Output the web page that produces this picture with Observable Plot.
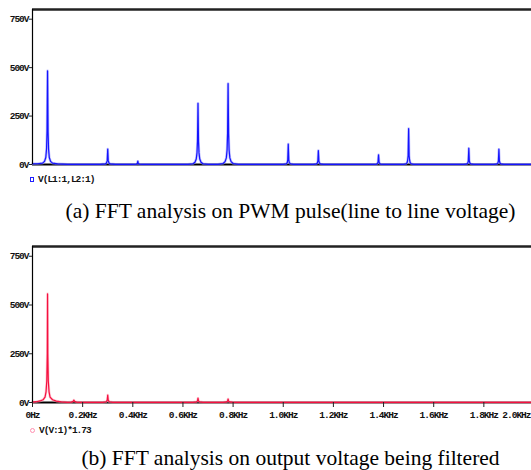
<!DOCTYPE html>
<html>
<head>
<meta charset="utf-8">
<script src="https://cdn.jsdelivr.net/npm/d3@7"></script>
<script src="https://cdn.jsdelivr.net/npm/@observablehq/plot@0.6"></script>
<style>
  html, body { margin: 0; padding: 0; background: #fff; }
  #wrap { position: relative; width: 531px; height: 470px; overflow: hidden; background: #fff; }
  .panel { position: absolute; left: 0; }
  .panel text { letter-spacing: -1px; }
  .legend { position: absolute; left: 30px; font-family: "Liberation Mono", monospace; font-weight: bold;
            font-size: 9.5px; letter-spacing: -1px; color: #111; white-space: nowrap; line-height: 10px; }
  .legend .mk { display: inline-block; vertical-align: middle; margin-right: 4px; box-sizing: border-box; }
  .caption { position: absolute; left: 50px; width: 481px; text-align: center; font-family: "Liberation Serif", "Times New Roman", serif;
             font-size: 21.5px; line-height: 22px; color: #000; white-space: nowrap; }
</style>
</head>
<body>
<div id="wrap"></div>
<script>
// ---- data (frequency in Hz, magnitude in V) ----
const spectrumA = [
  [0,4],[20,4],[40,7],[48,16],[53,36],[56,80],[58,170],[60,483],[62,170],[64,80],[67,36],[72,16],[80,7],[100,3],[140,1],
  [270,1],[290,3],[295,8],[298,20],[300,80],[302,20],[305,8],[310,3],[330,1],
  [400,1],[414,2],[418,5],[420,17],[422,5],[426,2],[440,1],
  [620,1],[640,4],[648,12],[653,28],[656,60],[658,120],[660,316],[662,120],[664,60],[667,28],[672,12],[680,4],[700,1],
  [740,1],[760,5],[768,15],[773,34],[776,75],[778,160],[780,418],[782,160],[784,75],[787,34],[792,15],[800,5],[820,1],
  [1000,1],[1012,4],[1016,10],[1018,24],[1020,105],[1022,24],[1024,10],[1028,4],[1040,1],
  [1120,1],[1132,3],[1136,8],[1138,18],[1140,72],[1142,18],[1144,8],[1148,3],[1160,1],
  [1360,1],[1372,2],[1376,6],[1378,13],[1380,50],[1382,13],[1384,6],[1388,2],[1400,1],
  [1480,1],[1490,4],[1494,10],[1496,22],[1498,45],[1500,185],[1502,45],[1504,22],[1506,10],[1510,4],[1520,1],
  [1720,1],[1732,3],[1736,8],[1738,18],[1740,84],[1742,18],[1744,8],[1748,3],[1760,1],
  [1840,1],[1852,3],[1856,8],[1858,18],[1860,79],[1862,18],[1864,8],[1868,3],[1880,1],[1990,1]
];
const spectrumB = [
  [0,2],[15,4],[30,8],[42,14],[50,28],[54,55],[57,110],[59,250],[60,557],[61,250],[63,110],[66,55],[70,28],[80,14],[95,7],[115,3],[140,1],
  [155,2],[162,6],[165,12],[168,6],[175,2],[190,1],
  [280,1],[294,4],[298,12],[300,38],[302,12],[306,4],[320,1],
  [640,1],[654,3],[658,8],[660,22],[662,8],[666,3],[680,1],
  [760,1],[774,3],[778,7],[780,18],[782,7],[786,3],[800,1],[1990,1]
];
const yTicks = [0, 250, 500, 750];
const yTickLabels = ["0V", "250V", "500V", "750V"];
const xTicks = [0, 200, 400, 600, 800, 1000, 1200, 1400, 1600, 1800];
const xTickLabels = ["0Hz", "0.2KHz", "0.4KHz", "0.6KHz", "0.8KHz", "1.0KHz", "1.2KHz", "1.4KHz", "1.6KHz", "1.8KHz"];
const xLastLabel = ["2.0KHz"];
const legendA = "V(L1:1,L2:1)";
const legendB = "V(V:1)*1.73";
const captionA = "(a) FFT analysis on PWM pulse(line to line voltage)";
const captionB = "(b) FFT analysis on output voltage being filtered";

const tickFont = {fontFamily: "Liberation Mono, monospace", fontWeight: "bold", fontSize: 9.5};
const xDomain = [0, 1990];
const yDomain = [0, 800];

function yAxis() {
  return Plot.axisY({
    ticks: yTicks,
    tickFormat: v => yTickLabels[yTicks.indexOf(v)],
    tickSize: 3, tickPadding: 1, label: null,
    fill: "#111", stroke: "#222", ...tickFont
  });
}

function panel(data, stroke, halo, height, marginBottom, withX) {
  const marks = [
    Plot.ruleY([0], {stroke: "#000", strokeWidth: 2}),
    Plot.lineY(data, {x: d => d[0], y: d => d[1], stroke: halo, strokeWidth: 2.6, strokeOpacity: 0.55}),
    Plot.lineY(data, {x: d => d[0], y: d => d[1], stroke: stroke, strokeWidth: 1.2}),
    Plot.ruleY([yDomain[1]], {stroke: "#222", strokeWidth: 2.5}),
    Plot.ruleX([0], {stroke: "#000", strokeWidth: 1.2}),
    yAxis()
  ];
  if (withX) {
    marks.push(Plot.axisX({
      ticks: xTicks,
      tickFormat: v => xTickLabels[xTicks.indexOf(v)],
      tickSize: 5, tickPadding: 4, label: null,
      fill: "#111", stroke: "#222", ...tickFont
    }));
    marks.push(Plot.text(xLastLabel, {
      frameAnchor: "bottom-right", dy: 15, dx: -1, textAnchor: "end",
      text: d => d, fill: "#111", ...tickFont
    }));
  }
  return Plot.plot({
    width: 531, height, marginLeft: 32, marginRight: 0, marginTop: 9, marginBottom,
    x: {domain: xDomain, axis: withX ? undefined : null},
    y: {domain: yDomain},
    style: {background: "transparent", overflow: "visible", letterSpacing: "-1px"},
    marks
  });
}

const wrap = document.getElementById("wrap");

const pa = panel(spectrumA, "#1414ff", "#8c8cff", 170, 6, false);
pa.classList.add("panel"); pa.style.top = "0px";
wrap.appendChild(pa);

const pb = panel(spectrumB, "#f5103f", "#ff9ab0", 200, 35, true);
pb.classList.add("panel"); pb.style.top = "237px";
wrap.appendChild(pb);

function legend(top, text, markerStyle) {
  const d = document.createElement("div");
  d.className = "legend";
  d.style.top = top + "px";
  const m = document.createElement("span");
  m.className = "mk";
  Object.assign(m.style, markerStyle);
  d.appendChild(m);
  d.appendChild(document.createTextNode(text));
  wrap.appendChild(d);
}
legend(175, legendA, {width: "4px", height: "5px", border: "1px solid #2020ff"});
legend(426, legendB, {width: "5px", height: "5px", border: "1px solid #ff8fb0", borderRadius: "50%"});

function caption(top, text) {
  const d = document.createElement("div");
  d.className = "caption";
  d.style.top = top + "px";
  d.textContent = text;
  wrap.appendChild(d);
}
caption(200, captionA);
caption(447, captionB);
</script>
</body>
</html>
